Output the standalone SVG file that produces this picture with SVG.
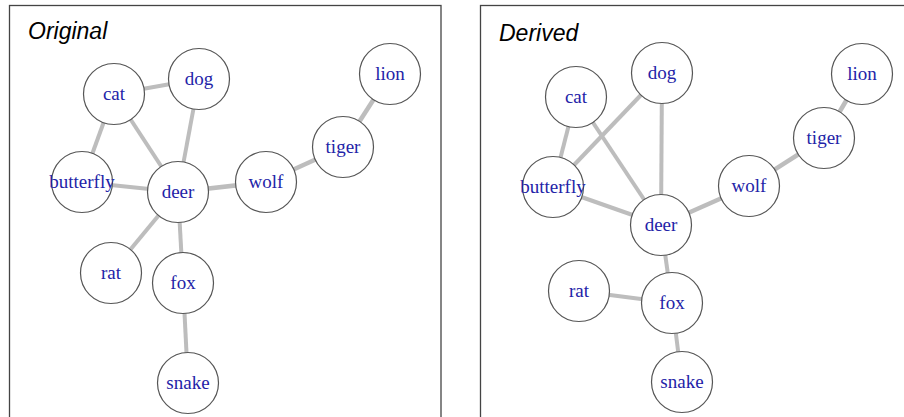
<svg xmlns="http://www.w3.org/2000/svg" width="904" height="417" viewBox="0 0 904 417">
<style>
.frame{fill:none;stroke:#444;stroke-width:1.3}
.title{font-family:"Liberation Sans",Arial,sans-serif;font-style:italic;font-size:23px;fill:#000}
.edges line{stroke:#bdbdbd;stroke-width:4;stroke-linecap:butt}
.node circle{fill:#fff;stroke:#555;stroke-width:1.2}
.node text{font-family:"Liberation Serif","Times New Roman",serif;font-size:19px;fill:#2323a8;text-anchor:middle}
</style>
<rect width="904" height="417" fill="#fff"/>
<rect class="frame" x="9.5" y="5.5" width="431.5" height="420"/>
<rect class="frame" x="480.5" y="5.5" width="440" height="420"/>
<text class="title" x="28" y="39">Original</text>
<text class="title" x="499" y="41">Derived</text>

<g id="edges-original" class="edges">
<line x1="114" y1="94" x2="199" y2="79"/>
<line x1="114" y1="94" x2="82" y2="182"/>
<line x1="114" y1="94" x2="178" y2="192"/>
<line x1="199" y1="79" x2="178" y2="192"/>
<line x1="82" y1="182" x2="178" y2="192"/>
<line x1="178" y1="192" x2="266" y2="182" style="stroke-width:4.5"/>
<line x1="266" y1="182" x2="343" y2="147" style="stroke-width:4.5"/>
<line x1="343" y1="147" x2="390" y2="74" style="stroke-width:4.5"/>
<line x1="178" y1="192" x2="111" y2="273"/>
<line x1="178" y1="192" x2="183" y2="283"/>
<line x1="183" y1="283" x2="188" y2="383"/>
</g>

<g id="o-cat" class="node"><circle cx="114" cy="94" r="30.5"/><text x="114" y="100">cat</text></g>
<g id="o-dog" class="node"><circle cx="199" cy="79" r="30.5"/><text x="199" y="85">dog</text></g>
<g id="o-lion" class="node"><circle cx="390" cy="74" r="30.5"/><text x="390" y="80">lion</text></g>
<g id="o-tiger" class="node"><circle cx="343" cy="147" r="30.5"/><text x="343" y="153">tiger</text></g>
<g id="o-butterfly" class="node"><circle cx="82" cy="182" r="30.5"/><text x="82" y="188">butterfly</text></g>
<g id="o-deer" class="node"><circle cx="178" cy="192" r="30.5"/><text x="178" y="198">deer</text></g>
<g id="o-wolf" class="node"><circle cx="266" cy="182" r="30.5"/><text x="266" y="188">wolf</text></g>
<g id="o-rat" class="node"><circle cx="111" cy="273" r="30.5"/><text x="111" y="279">rat</text></g>
<g id="o-fox" class="node"><circle cx="183" cy="283" r="30.5"/><text x="183" y="289">fox</text></g>
<g id="o-snake" class="node"><circle cx="188" cy="383" r="30.5"/><text x="188" y="389">snake</text></g>

<g id="edges-derived" class="edges">
<line x1="576" y1="97" x2="553" y2="187"/>
<line x1="576" y1="97" x2="661" y2="225"/>
<line x1="662" y1="73" x2="553" y2="187"/>
<line x1="662" y1="73" x2="661" y2="225"/>
<line x1="553" y1="187" x2="661" y2="225"/>
<line x1="661" y1="225" x2="749" y2="186" style="stroke-width:4.5"/>
<line x1="749" y1="186" x2="824" y2="138" style="stroke-width:4.5"/>
<line x1="824" y1="138" x2="862" y2="74" style="stroke-width:4.5"/>
<line x1="661" y1="225" x2="672" y2="303"/>
<line x1="579" y1="291" x2="672" y2="303"/>
<line x1="672" y1="303" x2="682" y2="382"/>
</g>

<g id="d-cat" class="node"><circle cx="576" cy="97" r="30.5"/><text x="576" y="103">cat</text></g>
<g id="d-dog" class="node"><circle cx="662" cy="73" r="30.5"/><text x="662" y="79">dog</text></g>
<g id="d-lion" class="node"><circle cx="862" cy="74" r="30.5"/><text x="862" y="80">lion</text></g>
<g id="d-tiger" class="node"><circle cx="824" cy="138" r="30.5"/><text x="824" y="144">tiger</text></g>
<g id="d-butterfly" class="node"><circle cx="553" cy="187" r="30.5"/><text x="553" y="193">butterfly</text></g>
<g id="d-wolf" class="node"><circle cx="749" cy="186" r="30.5"/><text x="749" y="192">wolf</text></g>
<g id="d-deer" class="node"><circle cx="661" cy="225" r="30.5"/><text x="661" y="231">deer</text></g>
<g id="d-rat" class="node"><circle cx="579" cy="291" r="30.5"/><text x="579" y="297">rat</text></g>
<g id="d-fox" class="node"><circle cx="672" cy="303" r="30.5"/><text x="672" y="309">fox</text></g>
<g id="d-snake" class="node"><circle cx="682" cy="382" r="30.5"/><text x="682" y="388">snake</text></g>
</svg>
